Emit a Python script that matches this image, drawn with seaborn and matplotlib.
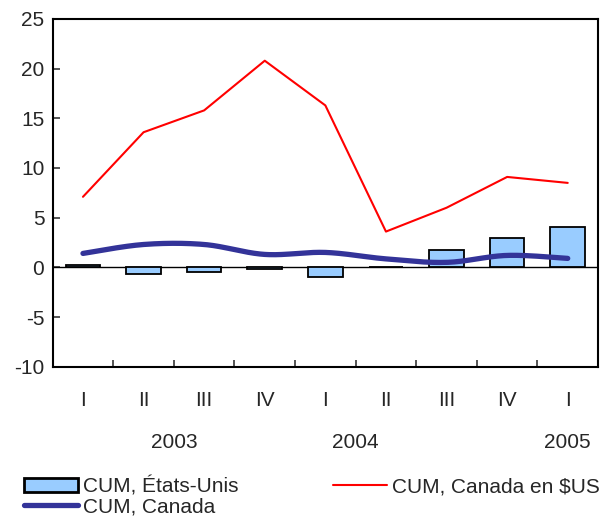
import numpy as np
import pandas as pd
import matplotlib
matplotlib.use("Agg")
import matplotlib.pyplot as plt
import seaborn as sns
from matplotlib.lines import Line2D
from matplotlib.patches import Patch

# ---------------- data ----------------
quarters = ["I", "II", "III", "IV", "I", "II", "III", "IV", "I"]
years = ["2003", "2003", "2003", "2003", "2004", "2004", "2004", "2004", "2005"]
year_labels = ["2003", "2004", "2005"]
cum_us = [0.2, -0.7, -0.5, -0.2, -1.0, 0.0, 1.7, 3.0, 4.1]
cum_canada_usd = [7.1, 13.6, 15.8, 20.8, 16.3, 3.6, 6.0, 9.1, 8.5]
cum_canada = [1.4, 2.3, 2.3, 1.3, 1.5, 0.85, 0.5, 1.2, 0.9]
series_names = ["CUM, États-Unis", "CUM, Canada", "CUM, Canada en $US"]
y_ticks = [-10, -5, 0, 5, 10, 15, 20, 25]

# ---------------- style ----------------
sns.set_style("ticks")
plt.rcParams["font.family"] = ["Liberation Sans", "DejaVu Sans"]
FS = 15
BAR_COLOR = "#99CCFF"
BLUE = "#333399"
RED = "#FF0000"

n = len(quarters)
pos = np.arange(n)
df = pd.DataFrame({"pos": pos, "quarter": quarters, "year": years,
                   "us": cum_us, "cad_usd": cum_canada_usd, "cad": cum_canada})


def smooth_curve(x, y, per_seg=40):
    """Excel-like smoothed line (Catmull-Rom Bezier) for drawing."""
    P = np.column_stack([np.asarray(x, float), np.asarray(y, float)])
    Pe = np.vstack([P[0], P, P[-1]])
    pts = []
    for i in range(len(P) - 1):
        p0, p1, p2, p3 = Pe[i], Pe[i + 1], Pe[i + 2], Pe[i + 3]
        b1 = p1 + (p2 - p0) / 6.0
        b2 = p2 - (p3 - p1) / 6.0
        t = np.linspace(0, 1, per_seg, endpoint=(i == len(P) - 2))[:, None]
        seg = (1 - t) ** 3 * p1 + 3 * (1 - t) ** 2 * t * b1 + 3 * (1 - t) * t ** 2 * b2 + t ** 3 * p2
        pts.append(seg)
    return np.vstack(pts)


fig = plt.figure(figsize=(6.02, 5.23), dpi=100)
ax = fig.add_axes([0.0875, 0.2989, 0.9059, 0.6648])

ax.axhline(0, color="black", linewidth=1.0, zorder=1)

sns.barplot(data=df, x="pos", y="us", native_scale=True, color=BAR_COLOR,
            saturation=1, edgecolor="black", linewidth=1.3, width=0.57,
            errorbar=None, ax=ax, zorder=2)

curve = smooth_curve(df["pos"], df["cad"])
sns.lineplot(x=curve[:, 0], y=curve[:, 1], sort=False, estimator=None,
             color=BLUE, linewidth=3.8, ax=ax, zorder=3)
sns.lineplot(data=df, x="pos", y="cad_usd", sort=False, estimator=None,
             color=RED, linewidth=1.5, ax=ax, zorder=4)

ax.set_xlim(-0.5, n - 0.5)
ax.set_ylim(y_ticks[0], y_ticks[-1])
ax.set_xlabel("")
ax.set_ylabel("")

ax.set_yticks(y_ticks)
ax.set_yticklabels([str(v) for v in y_ticks], fontsize=FS)
ax.tick_params(axis="y", direction="in", length=5, width=1.1, pad=6)

ax.set_xticks(pos)
ax.set_xticklabels(quarters, fontsize=FS)
ax.tick_params(axis="x", which="major", length=0, pad=17.5)
ax.set_xticks(np.arange(0.5, n - 1, 1.0), minor=True)
ax.tick_params(axis="x", which="minor", direction="in", length=5, width=1.1)

for sp in ax.spines.values():
    sp.set_visible(True)
    sp.set_linewidth(1.5)
    sp.set_color("black")

# year labels under the quarter labels
year_positions = {"2003": 1.5, "2004": 4.5, "2005": 8.0}
for yl in year_labels:
    ax.text(year_positions[yl], -0.1915, yl, transform=ax.get_xaxis_transform(),
            ha="center", va="top", fontsize=FS)

handles = [
    Patch(facecolor=BAR_COLOR, edgecolor="black", linewidth=2.0),
    Line2D([0], [0], color=BLUE, linewidth=3.8),
    Line2D([0], [0], color=RED, linewidth=1.5),
]
fig.legend(handles, series_names, loc="upper left", bbox_to_anchor=(0.0399, 0.0889),
           bbox_transform=fig.transFigure, ncol=2, frameon=False, fontsize=FS,
           handlelength=2.6, handleheight=0.65, handletextpad=0.25, columnspacing=4.5,
           labelspacing=0.05, borderpad=0, borderaxespad=0)

fig.savefig("out.png", dpi=100)
